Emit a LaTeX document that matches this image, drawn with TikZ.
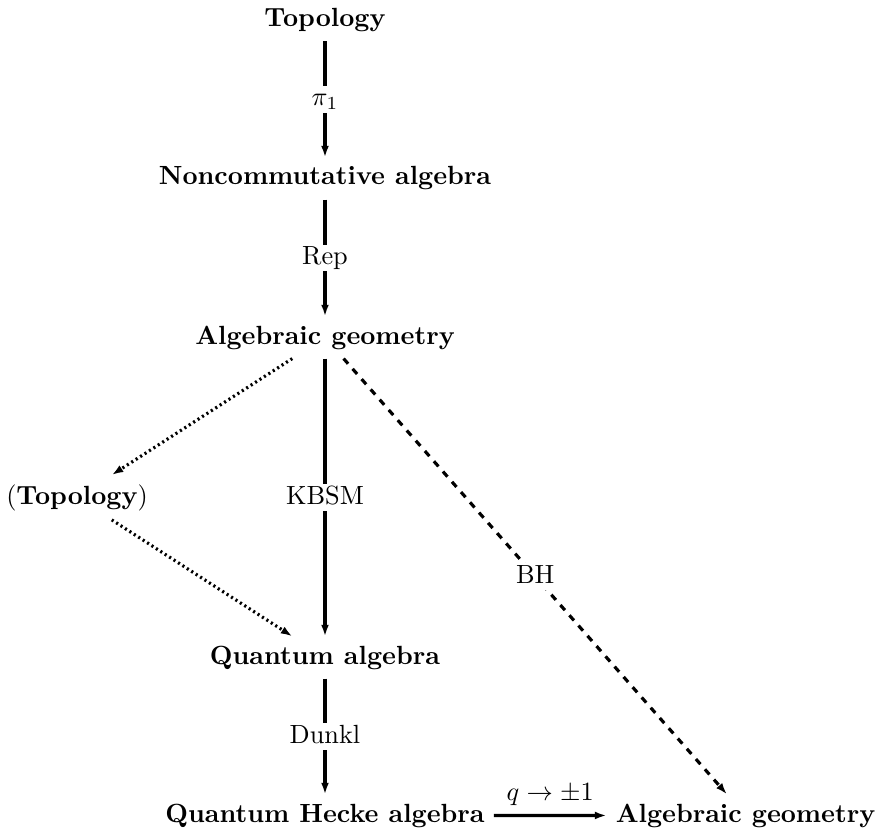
\documentclass[tikz,border=0pt]{standalone}
\usetikzlibrary{arrows.meta}
\begin{document}
\begin{tikzpicture}[x=0.3802pt,y=-0.3802pt,
  obj/.style={font=\bfseries, anchor=base},
  plainobj/.style={anchor=base},
  lab/.style={fill=white, inner sep=0.6pt, text height=7pt, text depth=2pt},
  arr/.style={line width=1.2pt, -{Latex[length=4.4pt,width=3pt]}},
  dotarr/.style={arr, dash pattern=on 0.8pt off 1.2pt},
  dasharr/.style={arr, dash pattern=on 2.6pt off 2.6pt}]
\useasboundingbox (0,0) rectangle (880,829);
\node[obj] (top) at (325,26.5) {Topology};
\node[obj] (nca) at (325,185) {Noncommutative algebra};
\node[obj] (ag) at (325,344) {Algebraic geometry};
\node[plainobj] (topp) at (77,504) {(\textbf{Topology})};
\node[obj] (qa) at (325,664) {Quantum algebra};
\node[obj] (qha) at (325,822) {Quantum Hecke algebra};
\node[obj] (ag2) at (745.5,822) {Algebraic geometry};

\draw[arr] (top) -- node[lab]{$\pi_1$} (nca);
\draw[arr] (nca) -- node[lab]{Rep} (ag);
\draw[arr] (ag) -- node[lab]{KBSM} (qa);
\draw[arr] (qa) -- node[lab]{Dunkl} (qha);
\draw[arr] (qha) -- node[above]{$q\to\pm1$} (ag2);
\draw[dasharr] (ag) -- node[lab]{BH} (ag2);
\draw[dotarr] (ag) -- (topp);
\draw[dotarr] (topp) -- (qa);
\end{tikzpicture}
\end{document}
